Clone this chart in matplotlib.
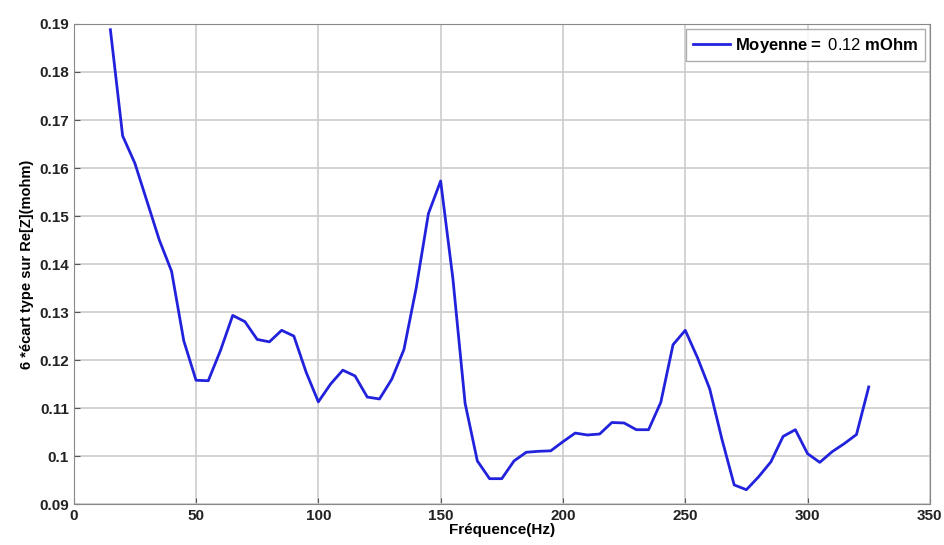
import matplotlib
matplotlib.use("Agg")
import matplotlib.pyplot as plt

plt.rcParams['font.family'] = ['Liberation Sans', 'DejaVu Sans']
plt.rcParams['mathtext.fontset'] = 'custom'
plt.rcParams['mathtext.rm'] = 'Liberation Sans'
plt.rcParams['mathtext.bf'] = 'Liberation Sans:bold'

freq = list(range(15, 330, 5))
sigma = [0.1888, 0.1667, 0.1610, 0.1530, 0.1450, 0.1385, 0.1240, 0.1158,
         0.1157, 0.1220, 0.1293, 0.1280, 0.1243, 0.1238, 0.1262, 0.1250,
         0.1175, 0.1113, 0.1150, 0.1179, 0.1167, 0.1123, 0.1119, 0.1160,
         0.1222, 0.1350, 0.1505, 0.1573, 0.1370, 0.1110, 0.0990, 0.0953,
         0.0953, 0.0990, 0.1008, 0.1010, 0.1011, 0.1030, 0.1048, 0.1044,
         0.1046, 0.1070, 0.1069, 0.1055, 0.1055, 0.1112, 0.1232, 0.1262,
         0.1205, 0.1140, 0.1035, 0.0940, 0.0930, 0.0957, 0.0988, 0.1041,
         0.1055, 0.1005, 0.0987, 0.1009, 0.1026, 0.1045, 0.1144]

xticks = [0, 50, 100, 150, 200, 250, 300, 350]
yticks = [0.09, 0.10, 0.11, 0.12, 0.13, 0.14, 0.15, 0.16, 0.17, 0.18, 0.19]
ytick_labels = ['0.09', '0.1', '0.11', '0.12', '0.13', '0.14', '0.15',
                '0.16', '0.17', '0.18', '0.19']

fig = plt.figure(figsize=(9.45, 5.45), dpi=100)
ax = fig.add_axes([0.078, 0.075, 0.906, 0.881])

ax.plot(freq, sigma, color='#2222dd', lw=2,
        label=r'$\bf{Moyenne=}$ 0.12 $\bf{mOhm}$')

ax.set_xlim(0, 350)
ax.set_ylim(0.09, 0.19)
ax.set_xticks(xticks)
ax.set_yticks(yticks)
ax.set_yticklabels(ytick_labels)
ax.tick_params(labelsize=11, direction='in', length=4, color='#555555')
for lab in ax.get_xticklabels() + ax.get_yticklabels():
    lab.set_fontweight('bold')
    lab.set_color('#222222')

ax.grid(True, color='#cccccc', lw=1.2, ls='-')
ax.set_axisbelow(True)
for s in ax.spines.values():
    s.set_color('#888888')

ax.set_xlabel('Fréquence(Hz)', fontsize=11, fontweight='bold', labelpad=0)
ax.set_ylabel('6 *écart type sur Re[Z](mohm)', fontsize=10.5,
              fontweight='bold', labelpad=4)

leg = ax.legend(loc='upper right', fontsize=12, fancybox=False,
                borderaxespad=0.3, handlelength=2.2, handletextpad=0.3)
leg.get_frame().set_edgecolor('#999999')

plt.savefig('out.png', dpi=100)
plt.close()
